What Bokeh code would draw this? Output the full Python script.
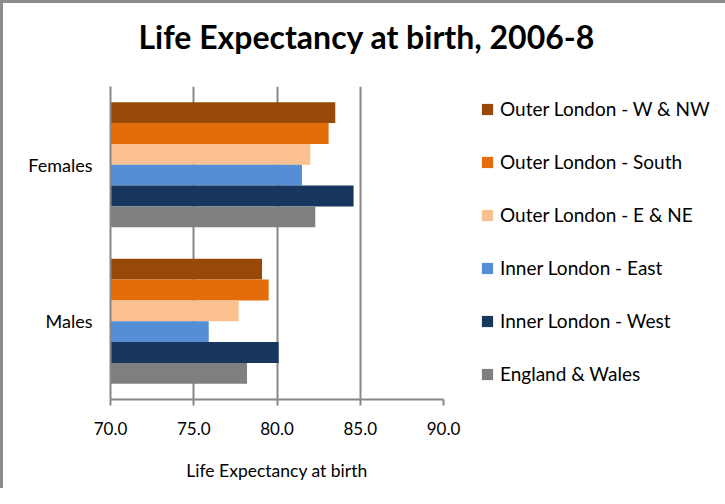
from bokeh.plotting import figure
from bokeh.models import (FactorRange, Range1d, ColumnDataSource, Legend, LegendItem,
                          FixedTicker, PrintfTickFormatter, Title)
from bokeh.transform import dodge
from bokeh.embed import file_html
from bokeh.resources import INLINE

# ---- data ----
categories = ["Females", "Males"]
series_names = ["Outer London - W & NW", "Outer London - South", "Outer London - E & NE",
                "Inner London - East", "Inner London - West", "England & Wales"]
outer_w_nw = [83.5, 79.1]
outer_south = [83.1, 79.5]
outer_e_ne = [82.0, 77.7]
inner_east = [81.5, 75.9]
inner_west = [84.6, 80.1]
england_wales = [82.3, 78.2]
x_ticks = [70, 75, 80, 85, 90]

series_values = [outer_w_nw, outer_south, outer_e_ne, inner_east, inner_west, england_wales]
colors = ["#984807", "#E46C0A", "#FAC090", "#558ED5", "#17375E", "#7F7F7F"]

FONT = "Lato"
GRID = "#878787"

p = figure(frame_width=333, frame_height=313, output_backend="svg", toolbar_location=None,
           title=None,
           y_range=FactorRange(factors=["Males", "Females"]),
           x_range=Range1d(70, 90),
           min_border_left=107, min_border_right=266, min_border_top=83, min_border_bottom=89)
p.styles = {"border-left": "3px solid #8c8c8c", "border-top": "3px solid #8c8c8c"}
p.outline_line_color = None
p.background_fill_color = "white"
p.border_fill_color = "white"

# spacer between frame and title (nearest the frame), then the title itself
p.add_layout(Title(text=" ", text_font=FONT, text_font_size="10px", standoff=14), "above")
p.add_layout(Title(text="Life Expectancy at birth, 2006-8", text_font=FONT,
                   text_font_size="32px", text_font_style="bold", text_color="black",
                   align="left", offset=28, standoff=6, vertical_align="bottom"), "above")

bar_h = 0.133
renderers = []
for i, (name, vals, col) in enumerate(zip(series_names, series_values, colors)):
    src = ColumnDataSource(dict(cat=categories, val=vals))
    off = (2.5 - i) * bar_h
    r = p.hbar(y=dodge("cat", off, range=p.y_range), left=70, right="val", height=bar_h,
               source=src, fill_color=col, line_color=None)
    renderers.append(r)

# axes
xa = p.xaxis[0]
xa.ticker = FixedTicker(ticks=x_ticks)
xa.formatter = PrintfTickFormatter(format="%.1f")
xa.axis_line_color = GRID
xa.axis_line_width = 2
xa.major_tick_line_color = GRID
xa.major_tick_line_width = 2
xa.major_tick_out = 6
xa.major_tick_in = 0
xa.minor_tick_line_color = None
xa.major_label_text_font = FONT
xa.major_label_text_font_size = "17px"
xa.major_label_text_color = "black"
xa.major_label_standoff = 16
xa.axis_label = "Life Expectancy at birth"
xa.axis_label_text_font = FONT
xa.axis_label_text_font_size = "17.5px"
xa.axis_label_text_font_style = "normal"
xa.axis_label_text_color = "black"
xa.axis_label_standoff = 22

ya = p.yaxis[0]
ya.axis_line_color = GRID
ya.axis_line_width = 2
ya.major_tick_line_color = None
ya.minor_tick_line_color = None
ya.major_label_text_font = FONT
ya.major_label_text_font_size = "18px"
ya.major_label_text_color = "black"
ya.major_label_standoff = 12

p.xgrid.grid_line_color = GRID
p.xgrid.grid_line_width = 2
p.ygrid.grid_line_color = None

legend = Legend(items=[LegendItem(label=n, renderers=[r]) for n, r in zip(series_names, renderers)],
                location=(37, 14), orientation="vertical",
                glyph_width=14, glyph_height=14, label_height=23, spacing=30,
                label_standoff=6, padding=0, margin=0,
                border_line_color=None, background_fill_alpha=0,
                label_text_font=FONT, label_text_font_size="19px", label_text_color="black")
p.add_layout(legend, "right")

open("out.html", "w").write(file_html(p, INLINE))
